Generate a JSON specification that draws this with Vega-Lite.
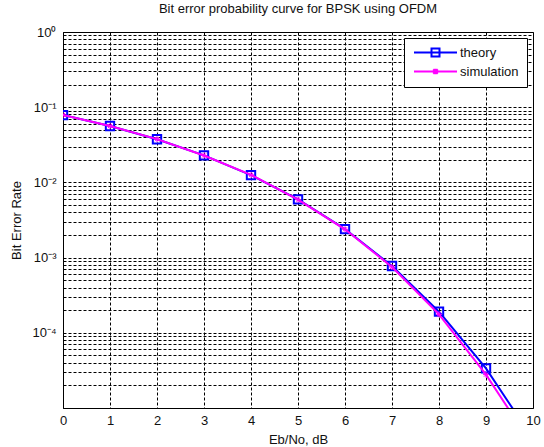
{
  "$schema": "https://vega.github.io/schema/vega-lite/v6.json",
  "width": 470,
  "height": 376,
  "autosize": {"type": "none"},
  "padding": {"left": 63, "top": 32, "right": 11, "bottom": 39},
  "background": "#ffffff",
  "title": {"text": "Bit error probability curve for BPSK using OFDM", "font": "Liberation Sans", "fontSize": 13, "fontWeight": "normal", "color": "#111111", "offset": 10, "anchor": "middle"},
  "config": {
    "view": {"stroke": "#000000", "strokeWidth": 1},
    "axis": {"labelFont": "Liberation Sans", "titleFont": "Liberation Sans", "labelFontSize": 13, "titleFontSize": 13, "titleFontWeight": "normal", "labelColor": "#111111", "titleColor": "#111111", "domain": false, "ticks": false, "grid": true, "gridColor": "#000000", "gridDash": [3, 2], "gridOpacity": 1, "gridWidth": 1}
  },
  "data": {"values": [
    {"x": 0, "ber": 0.0786, "series": "theory"},
    {"x": 1, "ber": 0.0563, "series": "theory"},
    {"x": 2, "ber": 0.0375, "series": "theory"},
    {"x": 3, "ber": 0.0229, "series": "theory"},
    {"x": 4, "ber": 0.0125, "series": "theory"},
    {"x": 5, "ber": 0.00595, "series": "theory"},
    {"x": 6, "ber": 0.00239, "series": "theory"},
    {"x": 7, "ber": 0.000773, "series": "theory"},
    {"x": 8, "ber": 0.000191, "series": "theory"},
    {"x": 9, "ber": 0.0000336, "series": "theory"},
    {"x": 10, "ber": 0.00000387, "series": "theory"},
    {"x": 0, "ber": 0.0787, "series": "simulation"},
    {"x": 1, "ber": 0.0562, "series": "simulation"},
    {"x": 2, "ber": 0.0376, "series": "simulation"},
    {"x": 3, "ber": 0.0228, "series": "simulation"},
    {"x": 4, "ber": 0.0126, "series": "simulation"},
    {"x": 5, "ber": 0.0059, "series": "simulation"},
    {"x": 6, "ber": 0.00238, "series": "simulation"},
    {"x": 7, "ber": 0.00075, "series": "simulation"},
    {"x": 8, "ber": 0.000176, "series": "simulation"},
    {"x": 9, "ber": 0.0000278, "series": "simulation"},
    {"x": 10, "ber": 0.0000031, "series": "simulation"}
  ]},
  "encoding": {
    "x": {"field": "x", "type": "quantitative", "scale": {"domain": [0, 10], "nice": false, "zero": false},
      "axis": {"title": "Eb/No, dB", "values": [0,1,2,3,4,5,6,7,8,9,10], "format": "d", "labelPadding": 6, "titlePadding": 6, "labelFlush": false}},
    "y": {"field": "ber", "type": "quantitative", "scale": {"type": "log", "domain": [0.00001, 1], "nice": false},
      "axis": {"title": "Bit Error Rate", "titlePadding": 8, "labelPadding": 7,
        "values": [0.00001,0.00002,0.00003,0.00004,0.00005,0.00006,0.00007,0.00008,0.00009,0.0001,0.0002,0.0003,0.0004,0.0005,0.0006,0.0007,0.0008,0.0009,0.001,0.002,0.003,0.004,0.005,0.006,0.007,0.008,0.009,0.01,0.02,0.03,0.04,0.05,0.06,0.07,0.08,0.09,0.1,0.2,0.3,0.4,0.5,0.6,0.7,0.8,0.9,1],
        "labelExpr": "abs(log(datum.value)/LN10 - round(log(datum.value)/LN10)) < 0.000001 ? ['10⁰','10⁻¹','10⁻²','10⁻³','10⁻⁴',''][-round(log(datum.value)/LN10)] : ''"}}
  },
  "layer": [
    {
      "transform": [{"filter": "datum.series === 'theory'"}],
      "mark": {"type": "line", "clip": true, "strokeWidth": 2},
      "encoding": {"color": {"field": "series", "type": "nominal",
        "scale": {"domain": ["theory", "simulation"], "range": ["#0000ff", "#ff00ff"]},
        "legend": {"title": null, "orient": "top-right", "offset": 6, "fillColor": "#ffffff", "strokeColor": "#000000", "padding": 8, "rowPadding": 3,
          "labelFont": "Liberation Sans", "labelFontSize": 13, "labelColor": "#111111", "symbolSize": 100, "symbolOffset": 17, "symbolStrokeWidth": 2, "labelOffset": 18,
          "encode": {"symbols": {"update": {"shape": {"signal": "datum.value === 'theory' ? 'M-4.3,0H4.3M-0.8,-0.8H0.8V0.8H-0.8Z' : 'M-4.3,0H4.3M-0.45,-0.45L0.45,0.45M-0.45,0.45L0.45,-0.45M0,-0.55V0.55'"}, "fill": {"value": "transparent"}}}}}}}
    },
    {
      "transform": [{"filter": "datum.series === 'theory'"}],
      "mark": {"type": "point", "shape": "square", "filled": false, "size": 70, "strokeWidth": 2, "color": "#0000ff", "clip": true, "opacity": 1}
    },
    {
      "transform": [{"filter": "datum.series === 'simulation'"}],
      "mark": {"type": "line", "clip": true, "strokeWidth": 2},
      "encoding": {"color": {"field": "series", "type": "nominal"}}
    },
    {
      "transform": [{"filter": "datum.series === 'simulation'"}],
      "mark": {"type": "point", "shape": "M-1,0H1M0,-1V1M-0.7,-0.7L0.7,0.7M-0.7,0.7L0.7,-0.7", "filled": false, "size": 36, "strokeWidth": 1, "color": "#ff00ff", "clip": true, "opacity": 1}
    }
  ]
}
